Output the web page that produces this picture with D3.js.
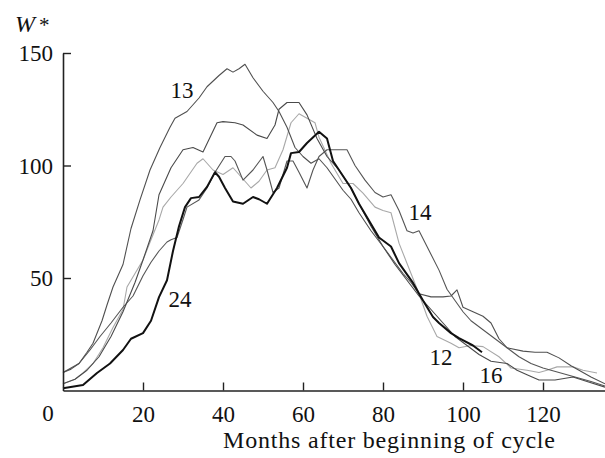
<!DOCTYPE html>
<html>
<head>
<meta charset="utf-8">
<script src="https://cdn.jsdelivr.net/npm/d3@7"></script>
<style>
  body { margin: 0; background: #fff; }
  svg text { font-family: "Liberation Serif", "Times New Roman", serif; fill: #111; }
</style>
</head>
<body>
<div id="wrap"></div>
<script>
// months after cycle start, W* values
const cycle13 = [[0,8],[2,9.5],[4,12],[6,17],[7.5,21],[9.75,31],[11,38],[12.5,46],[15,56],[17,72],[19.25,84.7],[21.75,98],[24.25,108],[26.75,117],[28,121],[31,124],[34,130],[36,135],[39,140],[41,143],[42.5,141.5],[44,143],[45.5,145],[47.5,139],[50,133],[52.5,128],[54,124],[56,117],[58,108],[60,104],[62,101],[64,103],[66,99],[68,94],[70,89],[72,85],[74,79],[77,71],[80,64],[82.5,58],[85,52],[87,48],[89,43],[92,41.6],[95,41.6],[97,42],[98.5,44.7],[100,37],[102.5,35],[105,33],[107,30],[109,23],[111,19],[115,17.5],[118,17],[121,17],[124,14.5],[127,11],[129,9],[132,6],[135.5,3]];
const cycle16 = [[0,3],[3,5],[6,9],[9,15],[12,24],[15,35],[18,48],[20,58],[22.5,71],[24,87],[27,99],[30,107],[32.5,108],[35,106],[38.5,119],[40,119.5],[43,119],[45,118],[48.5,113.5],[51,112],[53,118],[54,125],[56,128],[59,128],[61,122.5],[63.5,112],[66,104],[69,98],[72,90],[74,83],[77,73],[80,64],[83,56],[86,49],[89,42],[92,36],[95,30],[98,24],[101,20],[104,16],[107,13],[111,12],[113.5,9],[116,7],[119,4.7],[123,4.7],[127.5,6],[131,4],[135.5,1.5]];
const cycle14 = [[0,8],[2,10],[4,12],[6.75,18],[9.25,24],[12,30],[15,37],[17.5,42],[20,51],[22,57],[24,62],[26,66],[27,67],[28.5,68],[30,76],[31,81.5],[34,84.7],[36,90],[38,97],[40.5,104],[42,104],[43,102],[45,93.5],[47.5,98],[50,104],[51,98],[52.5,88],[54,90],[56,102],[57.5,102],[59,97],[61,90],[62.5,98],[64,104],[66,107],[69,107],[71,107],[73,100],[75.5,93.5],[78,88],[80,86],[82,87],[84,80],[86,71],[87.5,70],[89,71],[91,64],[94,53.5],[96,45],[98,40],[100,35],[102,31],[105,27],[108,23],[111,19],[114,15],[117,12],[120,10],[124,8],[128,6],[132,4],[135.5,2]];
const cycle12 = [[0,3],[3,5],[5,7.8],[7.5,12],[10,19],[12.5,28],[15,36],[16,46],[18,52],[20,58],[22,67],[24,75.8],[25,81.5],[27,86],[30,92],[33.5,101],[35,103],[37.5,98],[40,96],[42.5,99],[44,96],[47,90],[49,93],[51,98],[53,99],[55,107],[57,119],[59,123],[61,121],[63,119],[64,112.6],[67,101],[70,92],[72.5,92],[75,87.7],[78,81.5],[80,80],[82,79],[84,65.5],[87,52],[89,43],[91,33],[93.5,24],[97,21],[99,19],[102,20],[105,19.5],[109,15],[112,10],[116,9],[119,8],[121,9],[123.5,10.5],[127.5,10.5],[130,9],[133.5,7.8]];
const cycle24 = [[0,1],[5,2.4],[8.5,7.8],[11.75,12],[15,18],[17,23],[20,25.5],[22,31],[24,41.5],[26,49],[27.5,62],[29,73],[30.5,81.5],[32,85.5],[34,86],[36,90.5],[38,97],[39,95],[40.5,90],[42.5,84],[45,83],[47.5,86],[49,85],[51,83],[53.5,90],[56,99],[57,105.5],[59,106],[61,110],[64,115],[66,112],[67.5,102],[69,98],[72,90],[74,83],[77,74],[79,68],[82,64],[84,56.6],[87.5,47.8],[90,40],[92.5,32.7],[94,30],[97,25.5],[99,23.3],[102.5,20],[104.75,17]];

const xTicks = [20, 40, 60, 80, 100, 120];
const yTicks = [50, 100, 150];

// label anchor positions in data units
const seriesLabels = [
  { text: "13", m: 29.75, w: 130 },
  { text: "14", m: 89.25, w: 75.8 },
  { text: "24", m: 29.25, w: 37 },
  { text: "12", m: 94.5, w: 11.3 },
  { text: "16", m: 107, w: 3.3 }
];

const series = [
  { data: cycle12, color: "#a8a8a8", width: 1.1 },
  { data: cycle14, color: "#555", width: 1.1 },
  { data: cycle16, color: "#4a4a4a", width: 1.1 },
  { data: cycle13, color: "#505050", width: 1.1 },
  { data: cycle24, color: "#111", width: 2 }
];

const width = 605;
const height = 458;
const margin = { left: 63, right: 0, top: 53, bottom: 67.5 };

const x = d3.scaleLinear()
    .domain([0, 135.5])
    .range([margin.left, width - margin.right]);

const y = d3.scaleLinear()
    .domain([0, 150])
    .range([height - margin.bottom, margin.top]);

const svg = d3.select("#wrap").append("svg")
    .attr("width", width)
    .attr("height", height);

const line = d3.line()
    .x(d => x(d[0]))
    .y(d => y(d[1]));

svg.append("g")
  .selectAll("path")
  .data(series)
  .join("path")
    .attr("fill", "none")
    .attr("stroke", d => d.color)
    .attr("stroke-width", d => d.width)
    .attr("stroke-linejoin", "round")
    .attr("d", d => line(d.data));

// axes
const xAxis = d3.axisBottom(x)
    .tickValues(xTicks)
    .tickSizeInner(-8)
    .tickSizeOuter(0)
    .tickPadding(15);

const yAxis = d3.axisLeft(y)
    .tickValues(yTicks)
    .tickSizeInner(-8)
    .tickSizeOuter(0)
    .tickPadding(10);

const gx = svg.append("g")
    .attr("transform", `translate(0,${y(0)})`)
    .call(xAxis);

const gy = svg.append("g")
    .attr("transform", `translate(${x(0)},0)`)
    .call(yAxis);

[gx, gy].forEach(g => {
  g.select(".domain").attr("stroke", "#222").attr("stroke-width", 1.6);
  g.selectAll(".tick line").attr("stroke", "#222").attr("stroke-width", 1.4);
  g.selectAll(".tick text")
    .attr("font-size", 23)
    .attr("fill", "#111");
});

gy.selectAll(".tick text").attr("dy", "0.34em");

// origin label
svg.append("text")
    .attr("x", x(0) - 15)
    .attr("y", y(0) + 30.5)
    .attr("text-anchor", "middle")
    .attr("font-size", 23)
    .text("0");

// axis titles
const yTitle = svg.append("text")
    .attr("x", 15)
    .attr("y", 32)
    .attr("font-size", 24);
yTitle.append("tspan").attr("font-style", "italic").text("W");
yTitle.append("tspan").attr("dx", 4).attr("font-size", 21).text("*");

svg.append("text")
    .attr("x", 223)
    .attr("y", 448)
    .attr("font-size", 24)
    .attr("textLength", 332)
    .attr("lengthAdjust", "spacing")
    .text("Months after beginning of cycle");

// cycle numbers
svg.append("g")
  .selectAll("text")
  .data(seriesLabels)
  .join("text")
    .attr("x", d => x(d.m))
    .attr("y", d => y(d.w))
    .attr("text-anchor", "middle")
    .attr("font-size", 23)
    .text(d => d.text);
</script>
</body>
</html>
